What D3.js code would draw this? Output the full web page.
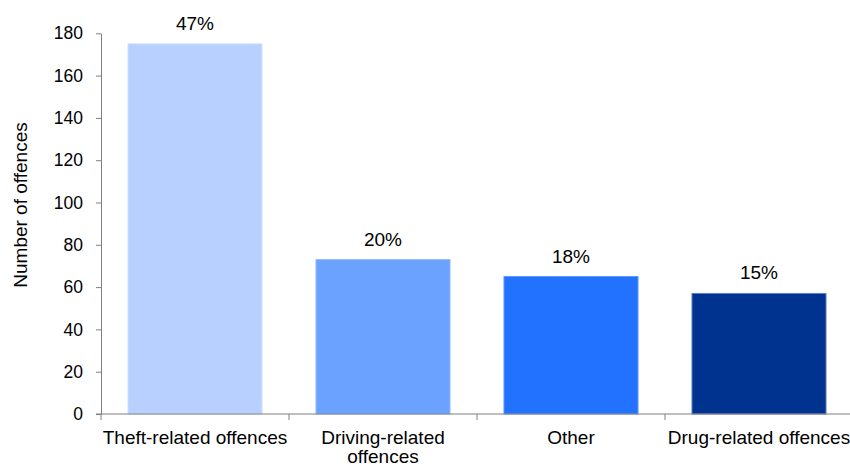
<!DOCTYPE html>
<html>
<head>
<meta charset="utf-8">
<script src="https://cdn.jsdelivr.net/npm/d3@7"></script>
<style>
  html, body { margin: 0; padding: 0; background: #fff; }
  svg { display: block; }
  text { font-family: "Liberation Sans", Arial, sans-serif; fill: #000; }
</style>
</head>
<body>
<svg id="chart" width="850" height="464"></svg>
<script>
const categories = ["Theft-related offences", "Driving-related offences", "Other", "Drug-related offences"];
const categoryLines = [["Theft-related offences"], ["Driving-related", "offences"], ["Other"], ["Drug-related offences"]];
const values = [175, 73, 65, 57];
const shareLabels = ["47%", "20%", "18%", "15%"];
const barColors = ["#b7d0ff", "#6ba1ff", "#2372ff", "#00338f"];
const barStrokes = ["#cfe0ff", "#92baff", "#5d97ff", "#5d80c8"];
const yTicks = [0, 20, 40, 60, 80, 100, 120, 140, 160, 180];
const yTitle = "Number of offences";

const svg = d3.select("#chart");
const plotLeft = 101, plotRight = 853, plotTop = 33.3, plotBottom = 414;

const x = d3.scaleBand().domain(categories).range([plotLeft, plotRight])
  .paddingInner(0.287).paddingOuter(0.1435);
const y = d3.scaleLinear().domain([0, 180]).range([plotBottom, plotTop]);

// bars
svg.append("g").selectAll("rect").data(categories).join("rect")
  .attr("x", d => x(d))
  .attr("y", (d, i) => y(values[i]))
  .attr("width", x.bandwidth())
  .attr("height", (d, i) => y(0) - y(values[i]))
  .attr("fill", (d, i) => barColors[i])
  .attr("stroke", (d, i) => barStrokes[i])
  .attr("stroke-width", 1);

// value labels
svg.append("g").selectAll("text").data(categories).join("text")
  .attr("x", d => x(d) + x.bandwidth() / 2)
  .attr("y", (d, i) => y(values[i]) - 14)
  .attr("text-anchor", "middle")
  .style("font-size", "19px")
  .text((d, i) => shareLabels[i]);

// y axis
const yAxis = svg.append("g").attr("transform", `translate(${plotLeft},0)`)
  .call(d3.axisLeft(y).tickValues(yTicks).tickSize(5).tickPadding(13).tickSizeOuter(0));
yAxis.select(".domain").attr("stroke", "#808080");
yAxis.selectAll(".tick line").attr("stroke", "#808080");
yAxis.selectAll(".tick text")
  .style("font-size", "17.5px")
  .style("font-family", "'Liberation Sans', Arial, sans-serif")
  .attr("fill", "#000");

// x axis (tick marks at band boundaries)
const xg = svg.append("g");
xg.append("line")
  .attr("x1", plotLeft - 5).attr("x2", 850)
  .attr("y1", y(0)).attr("y2", y(0))
  .attr("stroke", "#808080");
const boundaries = categories.map(d => x(d) - x.step() * x.paddingInner() / 2).concat([plotRight]);
xg.selectAll("line.tk").data(boundaries).join("line")
  .attr("class", "tk")
  .attr("x1", d => d).attr("x2", d => d)
  .attr("y1", y(0)).attr("y2", y(0) + 6)
  .attr("stroke", "#808080");

// category labels
const cl = svg.append("g").selectAll("text").data(categories).join("text")
  .attr("x", d => x(d) + x.bandwidth() / 2)
  .attr("y", 443.5)
  .attr("text-anchor", "middle")
  .style("font-size", "19px");
cl.each(function(d, i) {
  const t = d3.select(this);
  categoryLines[i].forEach((line, j) => {
    t.append("tspan")
      .attr("x", x(d) + x.bandwidth() / 2)
      .attr("dy", j === 0 ? 0 : 19)
      .text(line);
  });
});

// y title
svg.append("text")
  .attr("transform", "translate(27,205) rotate(-90)")
  .attr("text-anchor", "middle")
  .style("font-size", "19px")
  .text(yTitle);
</script>
</body>
</html>
